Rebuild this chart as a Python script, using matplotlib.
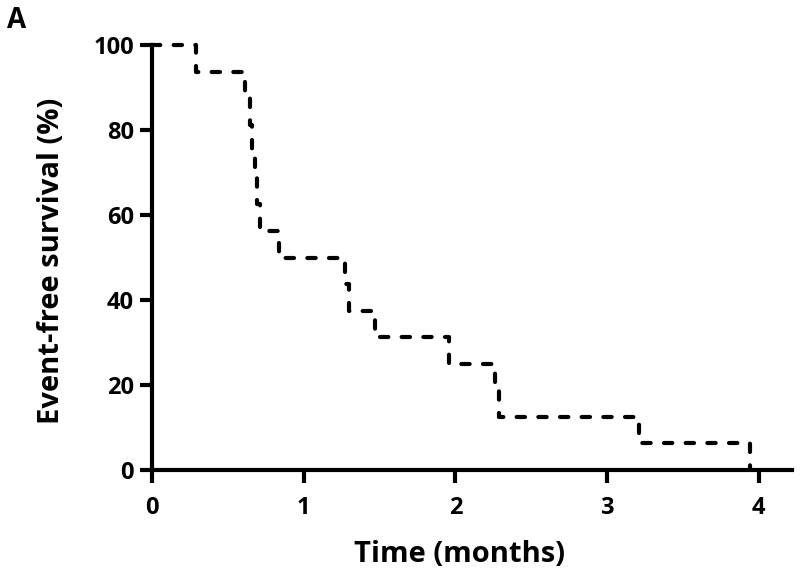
import matplotlib
matplotlib.use("Agg")
import matplotlib.pyplot as plt

# Kaplan-Meier step data (time in months, survival in %)
times = [0.0, 0.29, 0.61, 0.645, 0.66, 0.68, 0.69, 0.71, 0.84, 1.27, 1.30, 1.47, 1.96, 2.26, 2.29, 3.21, 3.94]
survival = [100, 93.75, 87.5, 81.25, 75.0, 68.75, 62.5, 56.25, 50.0, 43.75, 37.5, 31.25, 25.0, 18.75, 12.5, 6.25, 0.0]
xticks = [0, 1, 2, 3, 4]
yticks = [0, 20, 40, 60, 80, 100]

plt.rcParams['font.family'] = ['Open Sans', 'DejaVu Sans']
plt.rcParams['font.weight'] = 'bold'

W, H = 800, 581
fig = plt.figure(figsize=(8, 5.81), dpi=100)
left, right, bottom, top = 152, 792, 470, 45
ax = fig.add_axes([left / W, 1 - bottom / H, (right - left) / W, (bottom - top) / H])

ax.step(times, survival, where='post', color='black', lw=3,
        linestyle=(0, (2.0, 3.2)), dash_capstyle='round', clip_on=False, zorder=3)

ax.set_xlim(0, 4.22)
ax.set_ylim(0, 100)
ax.set_xticks(xticks)
ax.set_yticks(yticks)
ax.spines['top'].set_visible(False)
ax.spines['right'].set_visible(False)
for s in ['left', 'bottom']:
    ax.spines[s].set_linewidth(3)
ax.spines['left'].set_bounds(0, 100)
ax.tick_params(axis='both', width=3, length=9, labelsize=17)
ax.tick_params(axis='y', pad=4)
ax.tick_params(axis='x', pad=10)
for lab in ax.get_xticklabels() + ax.get_yticklabels():
    lab.set_fontweight('bold')

ax.set_xlabel('Time (months)', fontsize=21, fontweight='bold')
ax.set_ylabel('Event-free survival (%)', fontsize=21, fontweight='bold')
ax.xaxis.set_label_coords((460 - left) / (right - left), (bottom - 540) / (bottom - top))
ax.yaxis.set_label_coords((66 - left) / (right - left), (bottom - 261) / (bottom - top))

fig.text(17 / W, 1 - 20 / H, 'A', fontsize=20, fontweight='bold', va='center', ha='center')

fig.savefig('out.png', dpi=100)
